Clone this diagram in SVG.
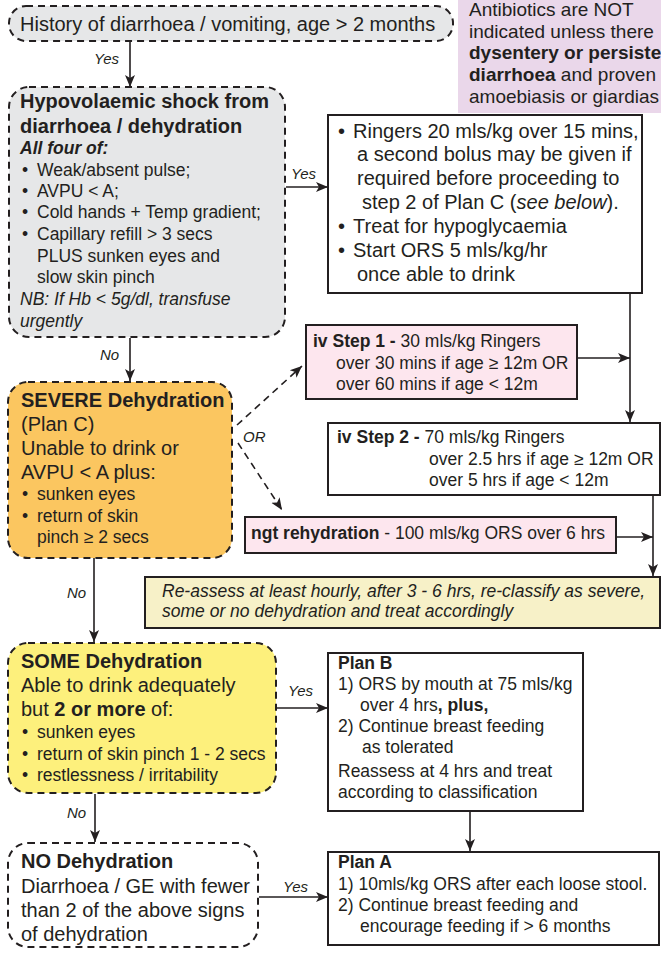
<svg xmlns="http://www.w3.org/2000/svg" width="661" height="953" viewBox="0 0 661 953">
<defs>
<marker id="ah" viewBox="0 0 12 12" refX="12" refY="6" markerWidth="12" markerHeight="12" orient="auto" markerUnits="userSpaceOnUse">
<path d="M0,1 L12,6 L0,11 L3,6 z" fill="#231f20"/>
</marker>
</defs>
<style>
text{font-family:"Liberation Sans",Arial,Helvetica,sans-serif;fill:#231f20;}
.t20{font-size:20px;}
.t19{font-size:19px;}
.t17{font-size:17.5px;}
.b{font-weight:bold;}
.i{font-style:italic;}
.lbl{font-size:15px;font-style:italic;}
.dash{stroke:#231f20;stroke-width:2;stroke-dasharray:7 5;}
.solid{stroke:#231f20;stroke-width:2;}
.conn{stroke:#231f20;stroke-width:1.6;fill:none;}
.conn-d{stroke:#231f20;stroke-width:1.6;fill:none;stroke-dasharray:7 5;}
</style>
<rect width="661" height="953" fill="#ffffff"/>

<g id="antibiotics">
<rect x="458" y="-2" width="210" height="115" fill="#ead7ea"/>
<text class="t19" x="469" y="16">Antibiotics are NOT</text>
<text class="t19" x="469" y="38">indicated unless there</text>
<text class="t19 b" x="469" y="59">dysentery or persiste</text>
<text class="t19" x="469" y="81"><tspan class="b">diarrhoea</tspan> and proven</text>
<text class="t19" x="469" y="103">amoebiasis or giardias</text>
</g>

<g id="history">
<rect x="9" y="6" width="444" height="35" rx="17" fill="#e6e7e8" class="dash"/>
<text class="t20" x="20" y="31">History of diarrhoea / vomiting, age &gt; 2 months</text>
</g>

<g id="shock">
<rect x="9" y="87" width="276" height="250" rx="20" fill="#e6e7e8" class="dash"/>
<text class="t20 b" x="20" y="108">Hypovolaemic shock from</text>
<text class="t20 b" x="20" y="133">diarrhoea / dehydration</text>
<text class="t17 b i" x="20" y="154">All four of:</text>
<text class="t17" x="22" y="176">•</text><text class="t17" x="37" y="176">Weak/absent pulse;</text>
<text class="t17" x="22" y="197">•</text><text class="t17" x="37" y="197">AVPU &lt; A;</text>
<text class="t17" x="22" y="218">•</text><text class="t17" x="37" y="218">Cold hands + Temp gradient;</text>
<text class="t17" x="22" y="240">•</text><text class="t17" x="37" y="240">Capillary refill &gt; 3 secs</text>
<text class="t17" x="37" y="262">PLUS sunken eyes and</text>
<text class="t17" x="37" y="283">slow skin pinch</text>
<text class="t17 i" x="20" y="305">NB: If Hb &lt; 5g/dl, transfuse</text>
<text class="t17 i" x="20" y="327">urgently</text>
</g>

<g id="ringers">
<rect x="328" y="115" width="314" height="178" fill="#ffffff" class="solid"/>
<text class="t20" x="338" y="138">•</text><text class="t20" x="353" y="138">Ringers 20 mls/kg over 15 mins,</text>
<text class="t20" x="357" y="161">a second bolus may be given if</text>
<text class="t20" x="357" y="185">required before proceeding to</text>
<text class="t20" x="362" y="209">step 2 of Plan C (<tspan class="i">see below</tspan>).</text>
<text class="t20" x="338" y="233">•</text><text class="t20" x="353" y="233">Treat for hypoglycaemia</text>
<text class="t20" x="338" y="257">•</text><text class="t20" x="353" y="257">Start ORS 5 mls/kg/hr</text>
<text class="t20" x="357" y="281">once able to drink</text>
</g>

<g id="step1">
<rect x="306" y="325" width="271" height="74" fill="#fde6ee" class="solid"/>
<text class="t17" x="313" y="347"><tspan class="b">iv Step 1 -</tspan> 30 mls/kg Ringers</text>
<text class="t17" x="336" y="369">over 30 mins if age ≥ 12m OR</text>
<text class="t17" x="336" y="390">over 60 mins if age &lt; 12m</text>
</g>

<g id="step2">
<rect x="328" y="423" width="332" height="72" fill="#ffffff" class="solid"/>
<text class="t17" x="337" y="443"><tspan class="b">iv Step 2 -</tspan> 70 mls/kg Ringers</text>
<text class="t17" x="429" y="465">over 2.5 hrs if age ≥ 12m OR</text>
<text class="t17" x="429" y="486">over 5 hrs if age &lt; 12m</text>
</g>

<g id="ngt">
<rect x="245" y="517" width="371" height="36" fill="#fde6ee" class="solid"/>
<text class="t17" x="251" y="539"><tspan class="b">ngt rehydration</tspan> - 100 mls/kg ORS over 6 hrs</text>
</g>

<g id="reassess">
<rect x="145" y="577" width="515" height="51" fill="#f7f1c8" class="solid"/>
<text class="t17 i" x="162" y="597">Re-assess at least hourly, after 3 - 6 hrs, re-classify as severe,</text>
<text class="t17 i" x="162" y="617">some or no dehydration and treat accordingly</text>
</g>

<g id="severe">
<rect x="8" y="382" width="224" height="176" rx="20" fill="#fbc660" class="dash"/>
<text class="t20 b" x="21" y="407">SEVERE Dehydration</text>
<text class="t20" x="21" y="431">(Plan C)</text>
<text class="t20" x="21" y="455">Unable to drink or</text>
<text class="t20" x="21" y="479">AVPU &lt; A plus:</text>
<text class="t17" x="22" y="500">•</text><text class="t17" x="37" y="500">sunken eyes</text>
<text class="t17" x="22" y="522">•</text><text class="t17" x="37" y="522">return of skin</text>
<text class="t17" x="37" y="543">pinch ≥ 2 secs</text>
</g>

<g id="some">
<rect x="8" y="643" width="268" height="150" rx="20" fill="#fdf07c" class="dash"/>
<text class="t20 b" x="21" y="668">SOME Dehydration</text>
<text class="t20" x="21" y="692">Able to drink adequately</text>
<text class="t20" x="21" y="716">but <tspan class="b">2 or more</tspan> of:</text>
<text class="t17" x="22" y="738">•</text><text class="t17" x="37" y="738">sunken eyes</text>
<text class="t17" x="22" y="760">•</text><text class="t17" x="37" y="760">return of skin pinch 1 - 2 secs</text>
<text class="t17" x="22" y="781">•</text><text class="t17" x="37" y="781">restlessness / irritability</text>
</g>

<g id="none">
<rect x="8" y="843" width="250" height="104" rx="20" fill="#ffffff" class="dash"/>
<text class="t20 b" x="21" y="868">NO Dehydration</text>
<text class="t20" x="21" y="893">Diarrhoea / GE with fewer</text>
<text class="t20" x="21" y="917">than 2 of the above signs</text>
<text class="t20" x="21" y="941">of dehydration</text>
</g>

<g id="planB">
<rect x="328" y="653" width="255" height="158" fill="#ffffff" class="solid"/>
<text class="t17 b" x="338" y="669">Plan B</text>
<text class="t17" x="338" y="690">1) ORS by mouth at 75 mls/kg</text>
<text class="t17" x="360" y="711">over 4 hrs<tspan class="b">, plus,</tspan></text>
<text class="t17" x="338" y="732">2) Continue breast feeding</text>
<text class="t17" x="362" y="753">as tolerated</text>
<text class="t17" x="338" y="777">Reassess at 4 hrs and treat</text>
<text class="t17" x="338" y="798">according to classification</text>
</g>

<g id="planA">
<rect x="328" y="852" width="331" height="93" fill="#ffffff" class="solid"/>
<text class="t17 b" x="338" y="868">Plan A</text>
<text class="t17" x="338" y="890">1) 10mls/kg ORS after each loose stool.</text>
<text class="t17" x="338" y="911">2) Continue breast feeding and</text>
<text class="t17" x="360" y="932">encourage feeding if &gt; 6 months</text>
</g>

<g id="connectors">
<line class="conn" x1="130" y1="42" x2="130" y2="87" marker-end="url(#ah)"/>
<text class="lbl" x="94" y="64">Yes</text>
<line class="conn" x1="286" y1="187" x2="328" y2="187" marker-end="url(#ah)"/>
<text class="lbl" x="291" y="179">Yes</text>
<line class="conn" x1="130" y1="338" x2="130" y2="381" marker-end="url(#ah)"/>
<text class="lbl" x="100" y="360">No</text>
<line class="conn" x1="630" y1="293" x2="630" y2="422" marker-end="url(#ah)"/>
<line class="conn" x1="577" y1="358" x2="630" y2="358" marker-end="url(#ah)"/>
<line class="conn" x1="653" y1="495" x2="653" y2="576" marker-end="url(#ah)"/>
<line class="conn" x1="616" y1="537" x2="653" y2="537" marker-end="url(#ah)"/>
<line class="conn-d" x1="237" y1="425" x2="302" y2="366" marker-end="url(#ah)"/>
<line class="conn-d" x1="238" y1="443" x2="282" y2="510" marker-end="url(#ah)"/>
<text class="lbl" x="243" y="442">OR</text>
<line class="conn" x1="94" y1="558" x2="94" y2="642" marker-end="url(#ah)"/>
<text class="lbl" x="67" y="598">No</text>
<line class="conn" x1="277" y1="708" x2="328" y2="708" marker-end="url(#ah)"/>
<text class="lbl" x="288" y="696">Yes</text>
<line class="conn" x1="95" y1="794" x2="95" y2="842" marker-end="url(#ah)"/>
<text class="lbl" x="67" y="818">No</text>
<line class="conn" x1="259" y1="897" x2="328" y2="897" marker-end="url(#ah)"/>
<text class="lbl" x="283" y="892">Yes</text>
<line class="conn" x1="470" y1="811" x2="470" y2="851" marker-end="url(#ah)"/>
</g>
</svg>
